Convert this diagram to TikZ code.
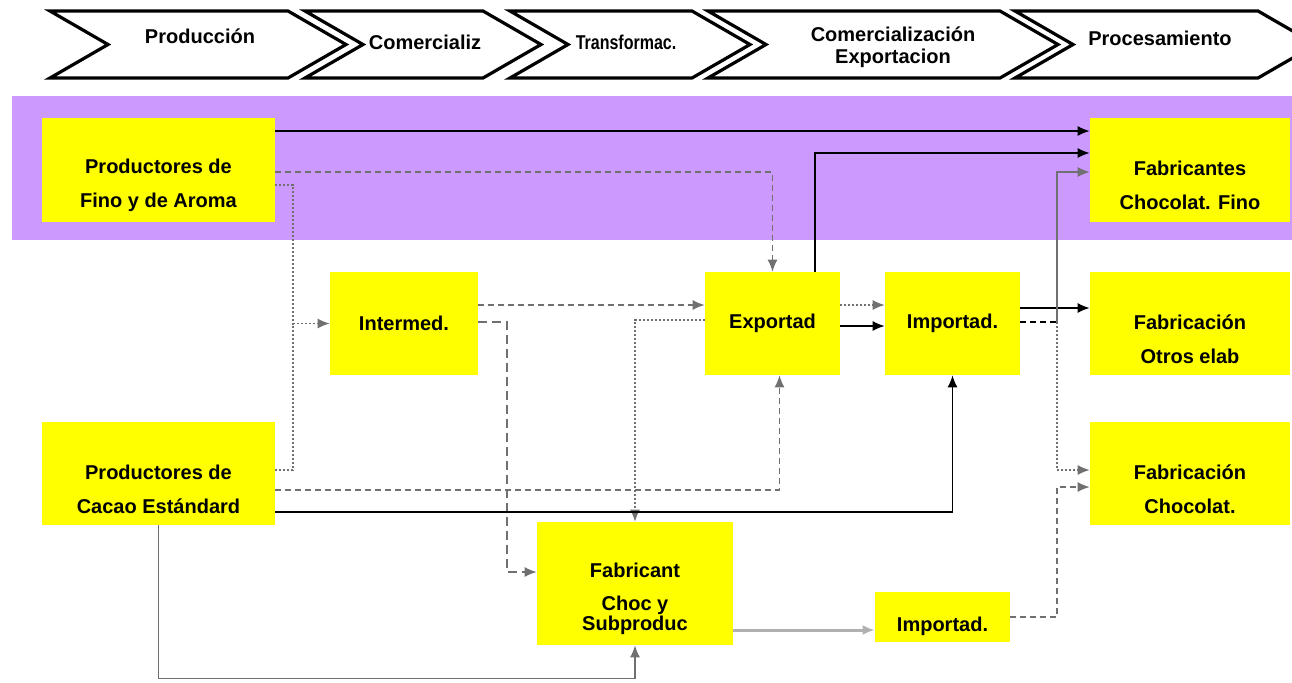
\documentclass[tikz,border=0pt]{standalone}
\usepackage{fontspec}
\setsansfont{Liberation Sans}
\newfontfamily\condsans[FakeStretch=0.8]{Liberation Sans}
\usetikzlibrary{arrows.meta,positioning,calc}
\definecolor{bandpurple}{HTML}{CC99FF}
\definecolor{boxyellow}{HTML}{FFFF00}
\definecolor{linegray}{HTML}{707070}
\definecolor{lightline}{HTML}{B0B0B0}

\begin{document}
\begin{tikzpicture}[x=0.5pt,y=-0.5pt,
    font=\sffamily\bfseries\fontsize{10}{17}\selectfont,
    box/.style={fill=boxyellow, align=center, inner sep=0pt},
    twoline/.style={text height=40pt},
    stage/.style={draw, line width=1.6pt, line join=miter},
    conn/.style={line width=0.6pt},
    flow/.style={conn, -{Latex[length=6pt,width=5pt]}},
    dashline/.style={dash pattern=on 3pt off 2pt},
    longdash/.style={dash pattern=on 4.5pt off 2.5pt, linegray},
    dotline/.style={dash pattern=on 1pt off 1pt, linegray}]
    \useasboundingbox (0,0) rectangle (1292,682);

    % value chain stages
    \foreach \l/\r in {50/288, 305/483, 510/692, 708/1000, 1015/1258}
        \draw[stage] (\l,11) -- (\r,11) -- (\r+58,44.5) -- (\r,78) -- (\l,78) -- (\l+58,44.5) -- cycle;
    \node (stProd) at (200,36) {Producción};
    \node (stCom) at (425,42) {Comercializ};
    \node[font=\condsans\bfseries\fontsize{10}{17}\selectfont] (stTrans) at (626,42) {Transformac.};
    \node[align=center, font=\sffamily\bfseries\fontsize{10}{11}\selectfont] (stExp) at (893,47) {Comercialización\\Exportacion};
    \node (stProc) at (1160,38) {Procesamiento};

    % fine cacao band
    \fill[bandpurple] (12,96) rectangle (1292,240);

    % actors
    \node[box, twoline, minimum width=116.5pt, minimum height=52pt] (prodFino) at (158.5,170) {Productores de\\Fino y de Aroma};
    \node[box, twoline, minimum width=100pt, minimum height=52pt] (fabFino) at (1190,170) {Fabricantes\\Chocolat. Fino};
    \node[box, minimum width=74pt, minimum height=51.5pt] (intermed) at (404,323.5) {Intermed.};
    \node[box, minimum width=67.5pt, minimum height=51.5pt] (exportad) at (772.5,323.5) {Exportad};
    \node[box, minimum width=67.5pt, minimum height=51.5pt] (importA) at (952.5,323.5) {Importad.};
    \node[box, twoline, minimum width=100pt, minimum height=51.5pt] (fabOtros) at (1190,323.5) {Fabricación\\Otros elab};
    \node[box, twoline, minimum width=116.5pt, minimum height=51.5pt] (prodStd) at (158.5,473.5) {Productores de\\Cacao Estándard};
    \node[box, twoline, minimum width=100pt, minimum height=51.5pt] (fabChoc) at (1190,473.5) {Fabricación\\Chocolat.};
    \node[box, text height=48.8pt, minimum width=98pt, minimum height=61.5pt, font=\sffamily\bfseries\fontsize{10}{10}\selectfont] (fabSub) at (635,583.5) {Fabricant\\[6.5pt]Choc y\\Subproduc};
    \node[box, text height=16.3pt, minimum width=67.5pt, minimum height=25pt] (importB) at (942.5,617) {Importad.};

    % flows
    \coordinate (jInt) at (293,323.5);
    \coordinate (jImp) at (1057,322);
    \draw[flow] (prodFino.east |- 0,131) -- (fabFino.west |- 0,131);
    \draw[flow, dashline, linegray] (prodFino.east |- 0,172) -| (exportad.north);
    \draw[flow, dotline] (prodFino.east |- 0,185) -| (jInt) -- (intermed.west);
    \draw[conn, dotline] (prodStd.east |- 0,470) -| (jInt);
    \draw[flow, dashline, linegray] (intermed.east |- 0,305) -- (exportad.west |- 0,305);
    \draw[flow, longdash] (intermed.east |- 0,322) -| (507,572) -- (fabSub.west |- 0,572);
    \draw[flow, dotline] (exportad.west |- 0,320) -| (fabSub.north);
    \draw[flow, dashline, linegray] (prodStd.east |- 0,490) -| ([xshift=3.5pt]exportad.south);
    \draw[flow] (prodStd.east |- 0,512) -| (importA.south);
    \draw[flow, linegray] (prodStd.south) -- ++(0,153) -| (fabSub.south);
    \draw[flow, dotline] (exportad.east |- 0,305) -- (importA.west |- 0,305);
    \draw[flow] (exportad.east |- 0,326) -- (importA.west |- 0,326);
    \draw[flow] (exportad.north -| 815,0) |- (fabFino.west |- 0,153);
    \draw[flow] (importA.east |- 0,308) -- (fabOtros.west |- 0,308);
    \draw[conn, dashline] (importA.east |- jImp) -- (jImp);
    \draw[flow, linegray] (jImp) |- (fabFino.west |- 0,172);
    \draw[flow, dotline] (jImp) |- (fabChoc.west |- 0,470);
    \draw[flow, dashline, linegray] (importB.east |- 0,617) -| (1057,487) -- (fabChoc.west |- 0,487);
    \draw[flow, lightline, line width=1.5pt] (fabSub.east |- 0,630) -- (importB.west |- 0,630);
\end{tikzpicture}
\end{document}
